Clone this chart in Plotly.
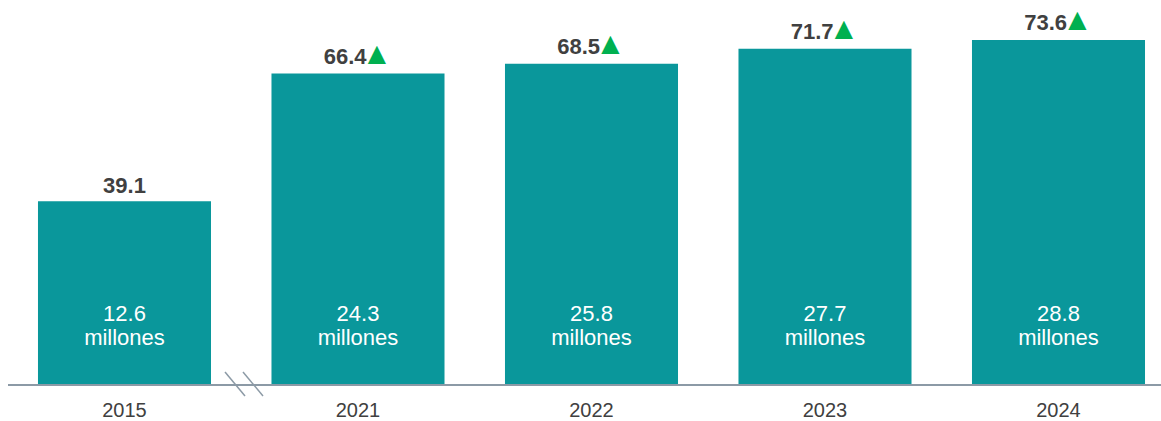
import plotly.graph_objects as go

# ---- data ----
years = ["2015", "2021", "2022", "2023", "2024"]
pct_values = [39.1, 66.4, 68.5, 71.7, 73.6]
millions = [12.6, 24.3, 25.8, 27.7, 28.8]
show_up_arrow = [False, True, True, True, True]

# ---- style ----
BAR_COLOR = "#0A979B"
LABEL_COLOR = "#404040"
ARROW_COLOR = "#00B050"
AXIS_COLOR = "#8C9AA6"
FONT = "Arial, Liberation Sans, sans-serif"
Y_MAX = 82.13
Y_NUM_LINE = 14.7
Y_UNIT_LINE = 9.5

outside_text = []
for v, up in zip(pct_values, show_up_arrow):
    s = f"{v:.1f}"
    if up:
        t = (f"<b>{s[:-1]}</b>"
             f"<span style='font-weight:bold;letter-spacing:-5px'>{s[-1]}</span>"
             f"<span style='color:{ARROW_COLOR};font-size:31px'>▲</span>")
    else:
        t = f"<b>{s}</b>"
    outside_text.append(t)

fig = go.Figure()
fig.add_trace(go.Bar(
    x=years, y=pct_values,
    marker=dict(color=BAR_COLOR, line=dict(width=0)),
    text=outside_text, textposition="outside",
    textfont=dict(family=FONT, size=22, color=LABEL_COLOR),
    cliponaxis=False, hoverinfo="skip",
))
fig.add_trace(go.Scatter(
    x=years, y=[Y_NUM_LINE] * len(years), mode="text",
    text=[f"{m:.1f}" for m in millions], textposition="middle center",
    textfont=dict(family=FONT, size=22, color="white"),
    hoverinfo="skip", showlegend=False,
))
fig.add_trace(go.Scatter(
    x=years, y=[Y_UNIT_LINE] * len(years), mode="text",
    text=["millones"] * len(years), textposition="middle center",
    textfont=dict(family=FONT, size=22, color="white"),
    hoverinfo="skip", showlegend=False,
))

# axis break marks
plot_w = 1153.0
plot_h = 387.0
def px(xp):
    return (xp - 8) / plot_w
def py(yp):
    return (387 - yp) / plot_h
for x0, x1 in [(225, 245), (243, 263)]:
    fig.add_shape(type="line", xref="paper", yref="paper",
                  x0=px(x0), y0=py(375), x1=px(x1), y1=py(399),
                  line=dict(color=AXIS_COLOR, width=1.5))

fig.update_layout(
    width=1161, height=421,
    margin=dict(l=8, r=0, t=0, b=34),
    paper_bgcolor="white", plot_bgcolor="white",
    showlegend=False, bargap=0.259,
    font=dict(family=FONT),
    xaxis=dict(
        type="category", range=[-0.4989, 4.439],
        showline=True, linecolor=AXIS_COLOR, linewidth=1.5,
        showgrid=False, zeroline=False, ticks="",
        ticklabelstandoff=7,
        tickfont=dict(family=FONT, size=20, color=LABEL_COLOR),
    ),
    yaxis=dict(range=[0, Y_MAX], visible=False, showgrid=False, zeroline=False),
)

fig.write_html(
    "out.html",
    config={"displayModeBar": False},
    post_script="document.body.style.margin='0';document.body.style.overflow='hidden';",
)
